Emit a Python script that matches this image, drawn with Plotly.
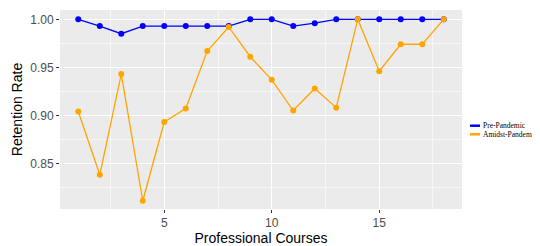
import plotly.graph_objects as go

courses = list(range(1, 19))
pre_pandemic = [1.000, 0.993, 0.985, 0.993, 0.993, 0.993, 0.993, 0.993, 1.000,
                1.000, 0.993, 0.996, 1.000, 1.000, 1.000, 1.000, 1.000, 1.000]
amidst_pandemic = [0.904, 0.838, 0.943, 0.811, 0.893, 0.907, 0.967, 0.992, 0.961,
                   0.937, 0.905, 0.928, 0.908, 1.000, 0.946, 0.974, 0.974, 1.000]
series_names = ["Pre-Pandemic", "Amidst-Pandemic"]
colors = ["#0000FF", "#FFA500"]
x_ticks = [5, 10, 15]
y_ticks = [0.85, 0.90, 0.95, 1.00]
y_tick_labels = ["0.85", "0.90", "0.95", "1.00"]

fig = go.Figure()
for name, vals, col in zip(series_names, [pre_pandemic, amidst_pandemic], colors):
    fig.add_trace(go.Scatter(x=courses, y=vals, mode="lines+markers", name=name,
                             line=dict(color=col, width=1.3),
                             marker=dict(color=col, size=6), showlegend=False))

# compact ggplot-style legend drawn in paper coordinates
legend_y = [0.4186, 0.3754]
for name, col, ly in zip(series_names, colors, legend_y):
    fig.add_shape(type="line", xref="paper", yref="paper",
                  x0=1.0199, x1=1.0448, y0=ly, y1=ly,
                  line=dict(color=col, width=2.5))
    fig.add_annotation(text=name, xref="paper", yref="paper", x=1.049, y=ly,
                       xanchor="left", yanchor="middle", showarrow=False,
                       borderpad=0,
                       font=dict(family="Liberation Serif, Times New Roman", size=7.5,
                                 color="black"))

grid = dict(showgrid=True, gridcolor="white", gridwidth=1.1,
            minor=dict(showgrid=True, gridcolor="#F7F7F7", gridwidth=0.6),
            zeroline=False, ticks="outside", ticklen=3, tickcolor="#333333",
            tickfont=dict(family="Liberation Sans, Arial", size=12, color="#4D4D4D"),
            showline=False, automargin=False)

fig.update_layout(
    width=532, height=238,
    margin=dict(l=52, r=78, t=2, b=37),
    paper_bgcolor="white", plot_bgcolor="#EBEBEB",
    font=dict(family="Liberation Sans, Arial"),
    showlegend=False,
    xaxis=dict(range=[0.15, 18.85], tickvals=x_ticks,
               title=dict(text="Professional Courses", standoff=2,
                          font=dict(size=14, color="black")),
               **grid),
    yaxis=dict(range=[0.8024, 1.0097], tickvals=y_ticks, ticktext=y_tick_labels,
               title=dict(text="Retention Rate", standoff=4,
                          font=dict(size=14, color="black")),
               **grid),
)
fig.update_xaxes(minor=dict(dtick=2.5, tick0=0))
fig.update_yaxes(minor=dict(dtick=0.025, tick0=0.8))

fig.write_html("out.html")
